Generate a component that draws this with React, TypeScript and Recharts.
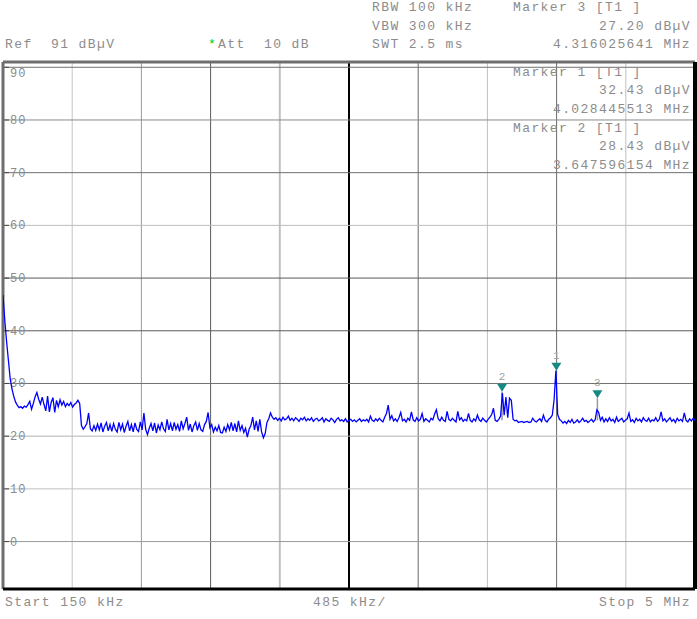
import React from 'react'
import { LineChart, Line, XAxis, YAxis, ReferenceLine, ReferenceDot } from 'recharts'

// sweep: 150 kHz .. 5 MHz, one reading every 12.5 kHz (values in dBµV)
const START_MHZ = 0.15
const STEP_MHZ = 0.0125
const levels = [
  46.8, 42.0, 38.0, 34.5, 31.0, 29.0, 27.6, 26.5, 25.9, 25.4,
  25.6, 25.3, 25.7, 25.5, 26.0, 26.6, 25.1, 26.2, 27.5, 28.3,
  27.0, 26.1, 27.4, 26.0, 24.8, 27.6, 24.6, 26.4, 27.3, 24.5,
  26.8, 25.6, 26.9, 25.9, 26.6, 25.6, 26.2, 25.8, 26.4, 25.5,
  26.0, 26.3, 26.8, 26.2, 22.0, 21.3, 21.8, 22.4, 24.4, 21.4,
  21.0, 22.0, 21.1, 22.3, 21.2, 22.5, 20.8, 21.9, 22.6, 21.0,
  22.2, 20.9, 22.4, 21.3, 20.8, 22.6, 21.2, 22.3, 20.7, 21.9,
  22.8, 21.0, 22.2, 20.8, 22.5, 21.3, 20.9, 22.7, 21.2, 24.4,
  21.3, 20.3, 21.5, 22.4, 21.0, 22.5, 20.6, 22.1, 21.2, 22.7,
  21.4, 20.9, 23.2, 21.2, 22.4, 21.0, 22.6, 21.3, 22.2, 20.9,
  22.9, 21.4, 22.4, 23.6, 21.1, 22.3, 20.8, 22.0, 22.7, 21.1,
  22.4, 21.2, 20.9, 22.2, 22.8, 24.5, 21.6, 22.2, 20.8, 21.7,
  21.0, 22.0, 20.7, 20.6, 21.7, 20.9, 22.2, 21.2, 22.6, 21.0,
  22.4, 20.8, 22.9, 21.1, 22.0, 20.7, 21.5, 19.8, 21.3, 22.0,
  23.6, 21.2, 22.9, 20.9, 23.2, 20.8, 19.7, 20.5, 22.6, 23.3,
  24.4, 23.6, 23.2, 23.5, 23.0, 23.4, 22.9, 23.6, 23.1, 23.3,
  23.8, 23.0, 23.4, 22.9, 23.5, 23.2, 22.8, 23.4, 23.1, 23.6,
  22.9, 23.3, 23.0, 23.5, 22.8, 23.2, 23.4, 22.9, 23.1, 23.5,
  22.7, 23.3, 23.0, 22.8, 23.4, 23.1, 22.6, 23.2, 23.5, 22.9,
  23.1, 22.8, 23.3, 22.7, 23.0, 23.2, 22.8, 23.1, 22.7, 23.0,
  23.3, 22.8, 23.1, 22.9, 23.2, 22.7, 23.8, 23.0, 22.8, 23.3,
  22.9, 23.4, 23.0, 22.7, 23.6, 24.3, 25.9, 23.2, 23.9, 22.9,
  23.3, 22.8, 23.5, 24.5, 22.9, 23.2, 22.7, 23.4, 23.0, 24.6,
  23.1, 22.8, 23.5, 22.9, 23.2, 24.3, 22.8, 23.3, 23.0, 22.7,
  23.4, 23.1, 24.2, 25.0, 23.3, 22.9, 23.6, 23.0, 22.8, 24.7,
  23.2, 22.9, 23.4, 23.0, 22.7, 24.7, 23.1, 23.5, 22.8, 23.2,
  22.9, 24.3, 23.0, 22.7, 23.3, 22.9, 24.0, 23.1, 22.8, 23.4,
  23.0, 22.7, 23.2, 23.6, 24.1, 25.3, 23.0, 22.8, 23.2, 23.8,
  28.2, 24.0, 27.4, 23.5, 27.2, 26.8, 23.2, 22.9, 23.0, 22.6,
  22.7, 22.8, 22.6, 22.7, 22.8, 22.6, 22.7, 23.4, 22.9, 22.7,
  23.0, 23.3, 22.8, 24.0, 23.0, 22.7, 23.2, 23.5, 24.0, 26.9,
  32.43, 24.1, 23.2, 22.9, 22.5, 22.8, 22.4, 23.0, 22.6, 23.2,
  22.5, 22.7, 23.1, 22.6, 22.9, 23.4, 22.8, 23.0, 22.6, 22.9,
  23.2, 22.7, 23.1, 25.0, 24.5, 23.0, 23.6, 22.7, 23.3, 22.8,
  23.5, 22.9, 23.2, 22.6, 23.6, 22.8, 23.1, 23.4, 22.7, 23.0,
  23.3, 24.4, 22.8, 23.1, 22.6, 23.4, 22.9, 23.2, 22.7, 23.5,
  23.0, 22.8, 23.4, 22.7, 23.1, 22.9, 23.5, 22.8, 23.2, 24.6,
  22.9, 23.3, 22.7, 23.1, 23.5, 22.8, 23.2, 22.6, 23.4, 22.9,
  23.2, 22.8, 24.4, 23.0, 22.7, 23.3, 22.9, 23.4, 23.0,
]

const markerIds = [1, 2, 3]
const markerFreqs = [4.028445513, 3.647596154, 4.316025641]
const markerLevels = [32.43, 28.43, 27.2]

const divFreqs = [0.635, 1.12, 1.605, 2.09, 2.575, 3.06, 3.545, 4.03, 4.515]
const dbTicks = [0, 10, 20, 30, 40, 50, 60, 70, 80, 90]

const trace = levels.map((v, i) => ({ f: +(START_MHZ + i * STEP_MHZ).toFixed(4), v }))

// grid shades vary like the scaled-down screen capture
const vShade = ['#c4c4c4', '#9a9a9a', '#5a5a5a', '#c0c0c0', '#000000', '#6a6a6a', '#c0c0c0', '#6a6a6a', '#c0c0c0']
const vWidth = [1, 1, 1, 2, 2, 1, 1, 1, 1]
const hShade = ['#999999', '#c0c0c0', '#b4b4b4', '#707070', '#5a5a5a', '#5a5a5a', '#bcbcbc', '#707070', '#8a8a8a', '#707070']

const TXT = '#8c8c8c'
const MONO = '"Liberation Mono", "DejaVu Sans Mono", monospace'
const font: React.CSSProperties = {
  position: 'absolute',
  fontFamily: MONO,
  fontSize: 13,
  letterSpacing: 1.4,
  color: TXT,
  lineHeight: '16px',
  whiteSpace: 'pre',
}

function Txt({ x, y, right, children }: { x?: number; y: number; right?: number; children: React.ReactNode }) {
  const style: React.CSSProperties = { ...font, top: y - 8 }
  if (right !== undefined) style.right = right
  else style.left = x
  return <div style={style}>{children}</div>
}

const DbLabel = (props: any) => {
  const { viewBox, db } = props
  if (!viewBox) return null
  const dy = db === 90 ? 10 : 4
  return (
    <g>
      <line x1={viewBox.x} x2={viewBox.x + 6} y1={viewBox.y} y2={viewBox.y} stroke="#444" />
      <text x={10} y={viewBox.y + dy} fill={TXT} fontSize={12} fontFamily={MONO} letterSpacing={1}>
        {db}
      </text>
    </g>
  )
}

const markerShape = (id: number) => (props: any) => {
  const { cx, cy } = props
  return (
    <g>
      <polygon points={`${cx - 5},${cy - 8} ${cx + 5},${cy - 8} ${cx},${cy}`} fill="#168a82" />
      <text x={cx} y={cy - 12} textAnchor="middle" fill="#a0a0a0" fontSize={11} fontFamily={MONO}>
        {id}
      </text>
    </g>
  )
}

export default function App() {
  return (
    <div style={{ position: 'absolute', left: 0, top: 0, width: 697, height: 619, background: '#fff' }}>
      <LineChart width={697} height={619} data={trace} margin={{ top: 62, right: 2, bottom: 30, left: 3 }}>
        <XAxis dataKey="f" type="number" domain={[0.15, 5]} hide allowDataOverflow />
        <YAxis type="number" domain={[-9, 91]} hide allowDataOverflow />
        {divFreqs.map((f, i) => (
          <ReferenceLine key={'v' + f} x={f} stroke={vShade[i]} strokeWidth={vWidth[i]} />
        ))}
        {dbTicks.map((d, i) => (
          <ReferenceLine key={'h' + d} y={d} stroke={hShade[i]} strokeWidth={1} label={<DbLabel db={d} />} />
        ))}
        <ReferenceLine x={0.15} stroke="#6e6e6e" strokeWidth={3} />
        <ReferenceLine y={91} stroke="#6e6e6e" strokeWidth={3} />
        <ReferenceLine y={-9} stroke="#000" strokeWidth={3} />
        <ReferenceLine x={5} stroke="#000" strokeWidth={4} />
        <ReferenceLine
          segment={[{ x: markerFreqs[1], y: 23 }, { x: markerFreqs[1], y: markerLevels[1] }]}
          stroke="#9a9a9a"
          strokeWidth={1.5}
        />
        <ReferenceLine
          segment={[{ x: markerFreqs[2], y: 23 }, { x: markerFreqs[2], y: markerLevels[2] }]}
          stroke="#9a9a9a"
          strokeWidth={1.5}
        />
        <Line type="linear" dataKey="v" stroke="#0000ff" strokeWidth={1.3} dot={false} isAnimationActive={false} />
        {markerIds.map((id, i) => (
          <ReferenceDot key={'m' + id} x={markerFreqs[i]} y={markerLevels[i]} r={0} shape={markerShape(id)} />
        ))}
      </LineChart>

      <Txt x={372} y={8}>RBW 100 kHz</Txt>
      <Txt x={513} y={8}>Marker 3 [T1 ]</Txt>
      <Txt x={372} y={27}>VBW 300 kHz</Txt>
      <Txt right={6} y={27}>27.20 dBµV</Txt>
      <Txt x={5} y={45}>Ref  91 dBµV</Txt>
      <div style={{ ...font, left: 208, top: 37, color: '#00cc00' }}>*</div>
      <Txt x={218} y={45}>Att  10 dB</Txt>
      <Txt x={372} y={45}>SWT 2.5 ms</Txt>
      <Txt right={6} y={45}>4.316025641 MHz</Txt>

      <Txt x={513} y={73}>Marker 1 [T1 ]</Txt>
      <Txt right={6} y={91}>32.43 dBµV</Txt>
      <Txt right={6} y={110}>4.028445513 MHz</Txt>
      <Txt x={513} y={129}>Marker 2 [T1 ]</Txt>
      <Txt right={6} y={147}>28.43 dBµV</Txt>
      <Txt right={6} y={166}>3.647596154 MHz</Txt>

      <Txt x={5} y={603}>Start 150 kHz</Txt>
      <Txt x={313} y={603}>485 kHz/</Txt>
      <Txt right={6} y={603}>Stop 5 MHz</Txt>
    </div>
  )
}
